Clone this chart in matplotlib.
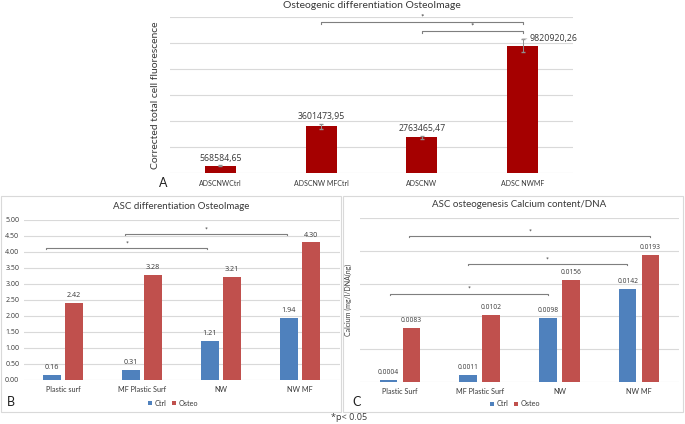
import numpy as np
import matplotlib
matplotlib.use('Agg')
import matplotlib.pyplot as plt
from matplotlib.patches import Rectangle

plt.rcParams['font.family'] = ['Lato', 'DejaVu Sans']
NUMFONT = ['Open Sans', 'DejaVu Sans']

# panel A
cats_a = ['ADSCNWCtrl', 'ADSCNW MFCtrl', 'ADSCNW', 'ADSC NWMF']
vals_a = [568584.65, 3601473.95, 2763465.47, 9820920.26]
err_a = [40000, 200000, 100000, 520000]
brk_a = [(1, 3, 11.66e6), (2, 3, 10.95e6)]

# panel B
cats_b = ['Plastic surf', 'MF Plastic Surf', 'NW', 'NW MF']
ctrl_b = [0.16, 0.31, 1.21, 1.94]
osteo_b = [2.42, 3.28, 3.21, 4.30]
brk_b = [(-0.21, 1.82, 4.12), (0.78, 2.83, 4.55)]

# panel C
cats_c = ['Plastic Surf', 'MF Plastic Surf', 'NW', 'NW MF']
ctrl_c = [0.0004, 0.0011, 0.0098, 0.0142]
osteo_c = [0.0083, 0.0102, 0.0156, 0.0193]
brk_c = [(-0.12, 1.86, 0.01348), (0.85, 2.85, 0.0179), (0.12, 3.14, 0.0222)]

DARK = '#a50000'
BLUE = '#4f81bd'
RED = '#c0504d'
GRID = '#d9d9d9'
TXT = '#383838'
W, H = 685, 424

def fx(px): return px / W
def fy(py): return 1 - py / H

def bracket(ax, x0, x1, y, tick, fs=5):
  ax.plot([x0, x0, x1, x1], [y - tick, y, y, y - tick], color='#7f7f7f', lw=0.8, clip_on=False)
  ax.text((x0 + x1) / 2, y + tick * 0.6, '*', ha='center', va='bottom', fontsize=fs, color=TXT, clip_on=False)

def style(ax, ticks):
  for s in ax.spines.values(): s.set_visible(False)
  ax.set_yticks(ticks)
  ax.yaxis.grid(True, color=GRID, lw=0.8)
  ax.set_axisbelow(True)
  ax.tick_params(length=0)
  ax.set_xlim(-0.5, 3.5)

fig = plt.figure(figsize=(W / 100, H / 100), dpi=100)

# boxes around B and C
fig.add_artist(Rectangle((fx(1), fy(412)), fx(340), 216 / H, transform=fig.transFigure, fill=False, ec=GRID, lw=0.8))
fig.add_artist(Rectangle((fx(343), fy(412)), fx(340), 216 / H, transform=fig.transFigure, fill=False, ec=GRID, lw=0.8))

# ---- A
ax = fig.add_axes([fx(170), fy(173.3), fx(403), (173.3 - 17.3) / H])
style(ax, np.arange(0, 12.1e6, 2e6))
ax.set_ylim(0, 12e6)
x = np.arange(4)
ax.bar(x, vals_a, 0.31, color=DARK, yerr=err_a, error_kw=dict(ecolor='#909090', lw=0.7, capsize=1.2))
ax.set_yticklabels([])
ax.set_xticks(x)
ax.set_xticklabels(cats_a, fontsize=5, color=TXT)
ax.tick_params(axis='x', pad=5)
for i in range(3):
  ax.text(x[i], vals_a[i] + err_a[i] + 2e5, f'{vals_a[i]:.2f}'.replace('.', ','), ha='center', va='bottom',
          fontsize=6.3, color=TXT, family=NUMFONT)
ax.annotate(f'{vals_a[3]:.2f}'.replace('.', ','), xy=(x[3], vals_a[3] + err_a[3]), xytext=(x[3] + 0.07, 10.4e6),
            fontsize=6.3, color=TXT, ha='left', va='center', family=NUMFONT,
            arrowprops=dict(arrowstyle='-', color='#bfbfbf', lw=0.6, shrinkA=0, shrinkB=0))
for b in brk_a: bracket(ax, *b, tick=0.15e6, fs=6)
ax.set_title('Osteogenic differentiation OsteoImage', fontsize=7.5, color=TXT, pad=7)
ax.set_ylabel('Corrected total cell fluorescence', fontsize=7.5, color=TXT, labelpad=4)
fig.text(fx(163), fy(183), 'A', fontsize=9, ha='center', va='center', color='#202020')

# ---- B
ax = fig.add_axes([fx(23.5), fy(380), fx(316), 160 / H])
style(ax, np.arange(0, 5.01, 0.5))
ax.set_ylim(0, 5)
ax.bar(x - 0.14, ctrl_b, 0.22, color=BLUE, label='Ctrl')
ax.bar(x + 0.14, osteo_b, 0.22, color=RED, label='Osteo')
ax.set_yticklabels([f'{t:.2f}' for t in np.arange(0, 5.01, 0.5)], fontsize=5, color=TXT, family=NUMFONT)
ax.set_xticks(x)
ax.set_xticklabels(cats_b, fontsize=5.2, color=TXT)
ax.tick_params(axis='x', pad=4)
ax.tick_params(axis='y', pad=3)
for i in range(4):
  ax.text(x[i] - 0.14, ctrl_b[i] + 0.12, f'{ctrl_b[i]:.2f}', ha='center', va='bottom', fontsize=5.2, color=TXT, family=NUMFONT)
  ax.text(x[i] + 0.14, osteo_b[i] + 0.12, f'{osteo_b[i]:.2f}', ha='center', va='bottom', fontsize=5.2, color=TXT, family=NUMFONT)
for b in brk_b: bracket(ax, *b, tick=0.03, fs=5)
ax.set_title('ASC differentiation OsteoImage', fontsize=7, color=TXT, pad=8)
ax.legend(loc='center', bbox_to_anchor=(fx(173), fy(403)), bbox_transform=fig.transFigure, ncol=2,
          frameon=False, fontsize=5.2, handlelength=0.6, handleheight=0.6, handletextpad=0.3, columnspacing=0.8,
          labelcolor=TXT)
fig.text(fx(11), fy(402), 'B', fontsize=9, ha='center', va='center', color='#202020')

# ---- C
ax = fig.add_axes([fx(360), fy(382.3), fx(319), (382.3 - 217.7) / H])
style(ax, np.arange(0, 0.02501, 0.005))
ax.set_ylim(0, 0.025)
ax.bar(x - 0.144, ctrl_c, 0.22, color=BLUE, label='Ctrl')
ax.bar(x + 0.144, osteo_c, 0.22, color=RED, label='Osteo')
ax.set_yticklabels([])
ax.set_xticks(x)
ax.set_xticklabels(cats_c, fontsize=5.2, color=TXT)
ax.tick_params(axis='x', pad=4)
for i in range(4):
  ax.text(x[i] - 0.144, ctrl_c[i] + 0.0006, f'{ctrl_c[i]:.4f}', ha='center', va='bottom', fontsize=4.8, color=TXT, family=NUMFONT)
  ax.text(x[i] + 0.144, osteo_c[i] + 0.0006, f'{osteo_c[i]:.4f}', ha='center', va='bottom', fontsize=4.8, color=TXT, family=NUMFONT)
for b in brk_c: bracket(ax, *b, tick=0.00015, fs=5)
ax.set_title('ASC osteogenesis Calcium content/DNA', fontsize=7, color=TXT, pad=8)
ax.set_ylabel('Calcium (mg/l/DNA(ng)', fontsize=5, color=TXT, labelpad=2)
ax.legend(loc='center', bbox_to_anchor=(fx(515), fy(404)), bbox_transform=fig.transFigure, ncol=2,
          frameon=False, fontsize=5.2, handlelength=0.6, handleheight=0.6, handletextpad=0.3, columnspacing=0.8,
          labelcolor=TXT)
fig.text(fx(357), fy(402), 'C', fontsize=9, ha='center', va='center', color='#202020')

fig.text(fx(349), fy(418), '*p< 0.05', fontsize=6.5, ha='center', va='center', color=TXT, family=NUMFONT)

fig.savefig('out.png', dpi=100)
